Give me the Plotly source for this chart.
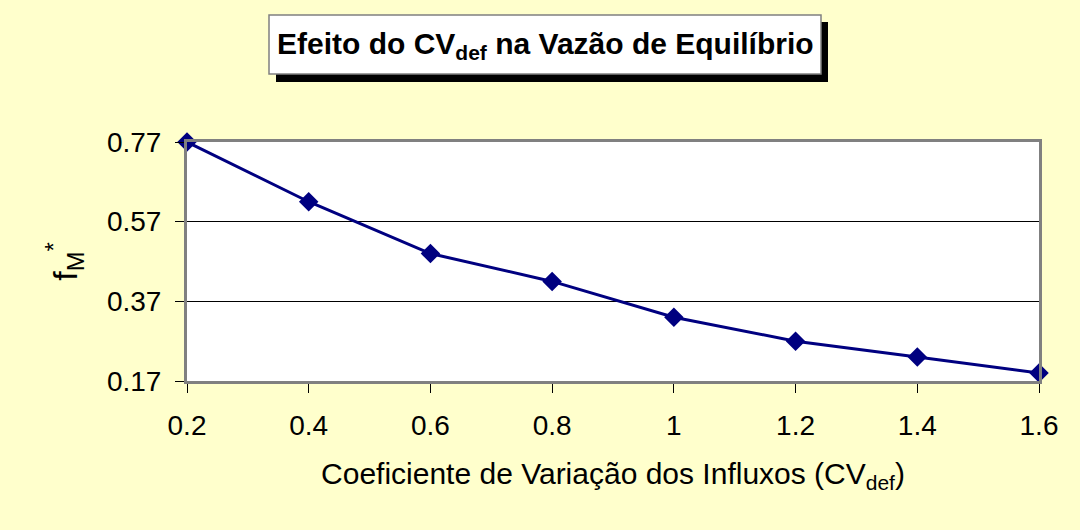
import plotly.graph_objects as go

cv_def = [0.2, 0.4, 0.6, 0.8, 1.0, 1.2, 1.4, 1.6]
f_m = [0.77, 0.62, 0.49, 0.42, 0.33, 0.27, 0.23, 0.19]
y_ticks = [0.17, 0.37, 0.57, 0.77]
x_ticks = [0.2, 0.4, 0.6, 0.8, 1.0, 1.2, 1.4, 1.6]
x_tick_labels = ["0.2", "0.4", "0.6", "0.8", "1", "1.2", "1.4", "1.6"]

FONT = "Arial, Liberation Sans, sans-serif"
W, H = 1080, 530
L, R, T, B = 187, 41, 142, 149
PW, PH = W - L - R, H - T - B

def px(x):
    return (x - L) / PW

def py(y):
    return (H - B - y) / PH

fig = go.Figure()
fig.add_trace(go.Scatter(
    x=cv_def, y=f_m, mode="lines+markers",
    line=dict(color="#000080", width=3),
    marker=dict(symbol="diamond", size=15, color="#000080"),
    cliponaxis=False, showlegend=False,
))

# title box shadow + box
fig.add_shape(type="rect", xref="paper", yref="paper",
              x0=px(276), x1=px(828), y0=py(82), y1=py(22),
              fillcolor="black", line=dict(width=0), layer="above")
fig.add_shape(type="rect", xref="paper", yref="paper",
              x0=px(269), x1=px(821), y0=py(74), y1=py(15),
              fillcolor="white", line=dict(color="#808080", width=1.5), layer="above")
fig.add_annotation(xref="paper", yref="paper", x=px(545), y=py(45),
                   xanchor="center", yanchor="middle", showarrow=False,
                   text="<b>Efeito do CV<sub>def</sub> na Vazão de Equilíbrio</b>",
                   font=dict(family=FONT, size=30, color="black"))

fig.update_layout(
    width=W, height=H,
    margin=dict(l=L, r=R, t=T, b=B),
    paper_bgcolor="#FFFFCC", plot_bgcolor="white",
    font=dict(family=FONT, color="black"),
)
fig.update_xaxes(
    range=[0.2, 1.6], tickvals=x_ticks, ticktext=x_tick_labels,
    ticks="outside", ticklen=9, tickcolor="black", tickwidth=1,
    tickfont=dict(size=28, family=FONT), ticklabelstandoff=8,
    showgrid=False, zeroline=False,
    showline=True, linecolor="#808080", linewidth=3, mirror=True,
    title=dict(text="Coeficiente de Variação dos Influxos (CV<sub>def</sub>)",
               font=dict(size=30, family=FONT), standoff=24),
)
fig.update_yaxes(
    range=[0.17, 0.77], tickvals=y_ticks, tickformat=".2f",
    ticks="outside", ticklen=9, tickcolor="black", tickwidth=1,
    tickfont=dict(size=28, family=FONT), ticklabelstandoff=8,
    showgrid=True, gridcolor="#000000", gridwidth=1, zeroline=False,
    showline=True, linecolor="#808080", linewidth=3, mirror=True,
    title=dict(text="f<sub>M</sub><sup>*</sup>", font=dict(size=34, family=FONT), standoff=20),
)

fig.write_html("out.html", config={"displayModeBar": False},
               post_script="document.body.style.margin='0';")
